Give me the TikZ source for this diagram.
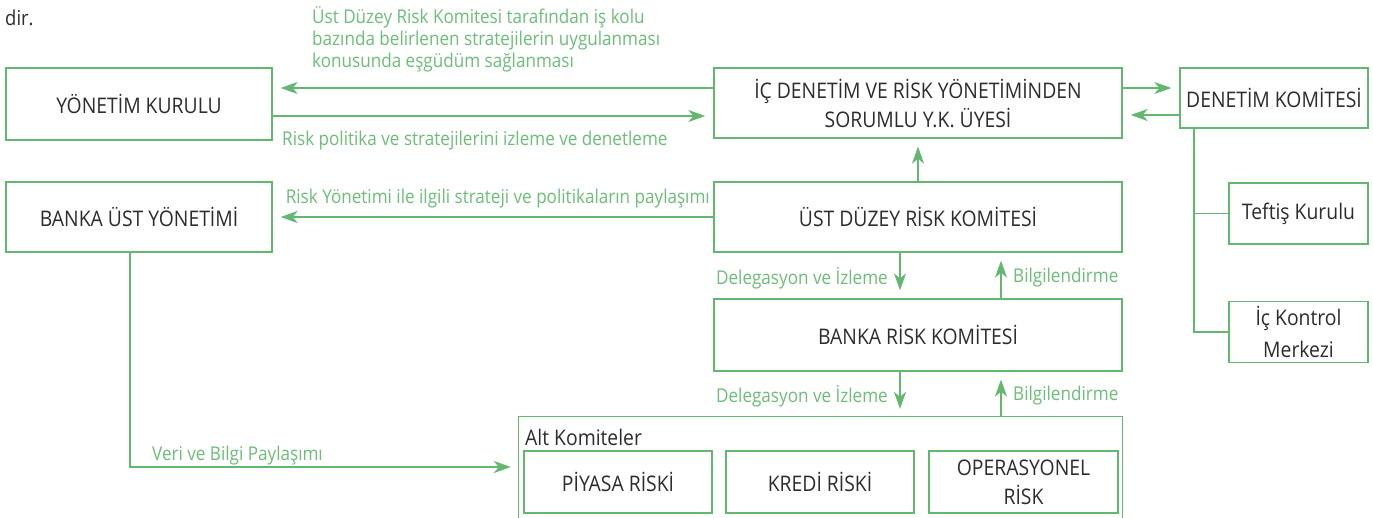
\documentclass[tikz,border=0pt]{standalone}
\usepackage{fontspec}
\setmainfont[FakeStretch=0.9]{Open Sans}
\usetikzlibrary{arrows.meta,calc}
\definecolor{grn}{RGB}{98,184,110}
\definecolor{lbl}{RGB}{108,190,120}
\definecolor{txt}{RGB}{45,45,45}
\tikzset{
  box/.style={draw=grn, line width=1.3pt, fill=white, inner sep=0pt, align=center,
    text=txt, font=\fontsize{21.5}{29}\selectfont},
  lab/.style={text=lbl, inner sep=0pt, font=\fontsize{19}{22}\selectfont},
  conn/.style={draw=grn, line width=1.3pt},
  arr/.style={conn, -{Stealth[length=17pt,width=12pt,inset=5pt]}, shorten >=8pt},
}
\begin{document}
\begin{tikzpicture}[x=1pt,y=-1pt]
\useasboundingbox[fill=white] (0,0) rectangle (1373,517);
% boxes
\node[box, minimum width=266pt, minimum height=72pt] (yk) at (139,104) {YÖNETİM KURULU};
\node[box, minimum width=408pt, minimum height=70pt] (ic) at (918,103) {İÇ DENETİM VE RİSK YÖNETİMİNDEN\\SORUMLU Y.K. ÜYESİ};
\node[box, minimum width=188pt, minimum height=60pt] (dk) at (1274,98) {DENETİM KOMİTESİ};
\node[box, minimum width=139pt, minimum height=61pt] (tk) at (1298.5,213.5) {Teftiş Kurulu};
\node[box, minimum width=139pt, minimum height=61pt, font=\fontsize{21.5}{32}\selectfont] (ikm) at (1298.5,332) {İç Kontrol\\Merkezi};
\node[box, minimum width=266pt, minimum height=70pt] (buy) at (139,217) {BANKA ÜST YÖNETİMİ};
\node[box, minimum width=408pt, minimum height=70pt] (udrk) at (918,217) {ÜST DÜZEY RİSK KOMİTESİ};
\node[box, minimum width=408pt, minimum height=72pt] (brk) at (918,335) {BANKA RİSK KOMİTESİ};
% Alt Komiteler outer frame (open at bottom)
\node[inner sep=0pt, minimum width=603pt, minimum height=102pt] (alt) at (820.5,468) {};
\draw[conn] (alt.south west) -- (alt.north west) -- (alt.north east) -- (alt.south east);
\node[anchor=west, inner sep=0pt, text=txt, font=\fontsize{21.5}{24}\selectfont] (altl) at (525,437) {Alt Komiteler};
\node[box, minimum width=188pt, minimum height=62pt] (piy) at (618,482) {PİYASA RİSKİ};
\node[box, minimum width=188pt, minimum height=62pt] (kre) at (820,482) {KREDİ RİSKİ};
\node[box, minimum width=189pt, minimum height=62pt] (ops) at (1023.5,482) {OPERASYONEL\\RİSK};
% dir.
\node[anchor=west, inner sep=0pt, text=txt, font=\fontsize{20.5}{24}\selectfont] (dir) at (5,18) {dir.};
% connectors top
\draw[arr] ([yshift=15pt]ic.west) -- ([yshift=15pt]ic.west -| yk.east);
\draw[arr] ([yshift=-13pt]ic.west -| yk.east) -- ([yshift=-13pt]ic.west);
\draw[arr] ([yshift=15pt]ic.east) -- ([yshift=15pt]ic.east -| dk.west);
\draw[arr] ([yshift=-12pt]ic.east -| dk.west) -- ([yshift=-12pt]ic.east);
\draw[arr] (udrk.north) -- (ic.south);
\draw[arr] (udrk.west) -- (udrk.west -| buy.east);
% Denetim tree
\coordinate (dkb) at ([xshift=-80pt]dk.south);
\draw[conn] (dkb) -- (dkb |- ikm.west) -- (ikm.west);
\draw[conn] (dkb |- tk.west) -- (tk.west);
% delegasyon / bilgilendirme
\draw[arr] ([xshift=-18pt]udrk.south) -- ([xshift=-18pt]brk.north);
\draw[arr] ([xshift=83pt]brk.north) -- ([xshift=83pt]udrk.south);
\draw[arr] ([xshift=-18pt]brk.south) -- ([xshift=-18pt]brk.south |- alt.north);
\draw[arr] ([xshift=83pt]brk.south |- alt.north) -- ([xshift=83pt]brk.south);
% veri ve bilgi
\coordinate (vb) at (buy.south |- 0,467);
\draw[arr] ([xshift=-9pt]buy.south) -- ([xshift=-9pt]vb) -- (vb -| alt.west);
% labels
\node[lab, anchor=north west, align=left] (l1) at (312,6) {Üst Düzey Risk Komitesi tarafından iş kolu\\bazında belirlenen stratejilerin uygulanması\\konusunda eşgüdüm sağlanması};
\node[lab, anchor=west] (l2) at (282,141) {Risk politika ve stratejilerini izleme ve denetleme};
\node[lab, anchor=east] (l3) at (710,199) {Risk Yönetimi ile ilgili strateji ve politikaların paylaşımı};
\node[lab, anchor=east] (l4) at (888,278) {Delegasyon ve İzleme};
\node[lab, anchor=west] (l5) at (1013,278) {Bilgilendirme};
\node[lab, anchor=east] (l6) at (888,396) {Delegasyon ve İzleme};
\node[lab, anchor=west] (l7) at (1013,396) {Bilgilendirme};
\node[lab, anchor=west] (l8) at (152,456) {Veri ve Bilgi Paylaşımı};
\end{tikzpicture}
\end{document}
